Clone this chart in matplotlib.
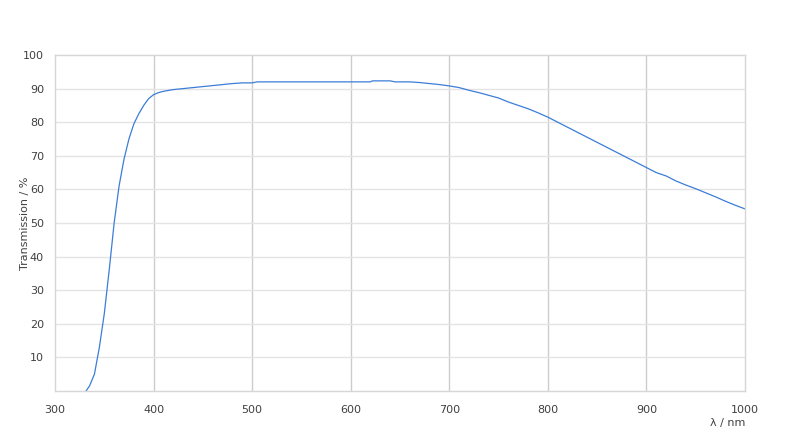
import numpy as np
import matplotlib.pyplot as plt

# Transmission curve
wavelength = [331.5, 335, 340, 345, 350, 355, 360, 365, 370, 375, 380, 385, 390, 395,
              400, 405, 410, 420, 430, 440, 450, 460, 470, 480, 490, 500, 505, 520,
              540, 560, 580, 600, 620, 622, 640, 645, 660, 670, 680, 690, 700, 710,
              720, 730, 740, 750, 760, 770, 780, 790, 800, 810, 820, 830, 840, 850,
              860, 870, 880, 890, 900, 910, 920, 930, 940, 950, 960, 970, 980, 990, 1000]
transmission = [0, 1.5, 5, 13, 23, 36, 50, 61, 69, 75, 79.5, 82.5, 85, 87,
                88.2, 88.8, 89.2, 89.7, 90, 90.3, 90.6, 90.9, 91.2, 91.5, 91.7, 91.7, 92, 92,
                92, 92, 92, 92, 92, 92.3, 92.3, 92, 92, 91.8, 91.5, 91.2, 90.8, 90.3,
                89.5, 88.8, 88, 87.2, 86, 85, 84, 82.8, 81.5, 80, 78.5, 77, 75.5, 74,
                72.5, 71, 69.5, 68, 66.5, 65, 64, 62.5, 61.3, 60.2, 59, 57.8, 56.5, 55.3, 54.2]

x_ticks = [300, 400, 500, 600, 700, 800, 900, 1000]
y_ticks = [10, 20, 30, 40, 50, 60, 70, 80, 90, 100]

text_col = '#404040'

fig = plt.figure(figsize=(8, 4.46), dpi=100)
ax = fig.add_axes([55 / 800, 55 / 446, 690 / 800, 336 / 446])

ax.plot(wavelength, transmission, color='#3b7dd8', lw=0.9)

ax.set_xlim(300, 1000)
ax.set_ylim(0, 100)
ax.set_xticks(x_ticks)
ax.set_yticks(y_ticks)

for x in x_ticks[1:-1]:
    ax.axvline(x, color='#cccccc', lw=1, zorder=0)
for y in y_ticks[:-1]:
    ax.axhline(y, color='#e4e4e4', lw=1, zorder=0)

for s in ax.spines.values():
    s.set_color('#d6d6d6')
    s.set_linewidth(1)

ax.tick_params(length=0, labelsize=8, colors=text_col, pad=10)
ax.tick_params(axis='y', pad=8)

ax.set_ylabel('Transmission / %', fontsize=8, color=text_col)
ax.yaxis.set_label_coords(-25 / 690, 0.5)
ax.set_xlabel('λ / nm', fontsize=8, color=text_col, loc='right', labelpad=2)

fig.savefig('out.png', dpi=100)
